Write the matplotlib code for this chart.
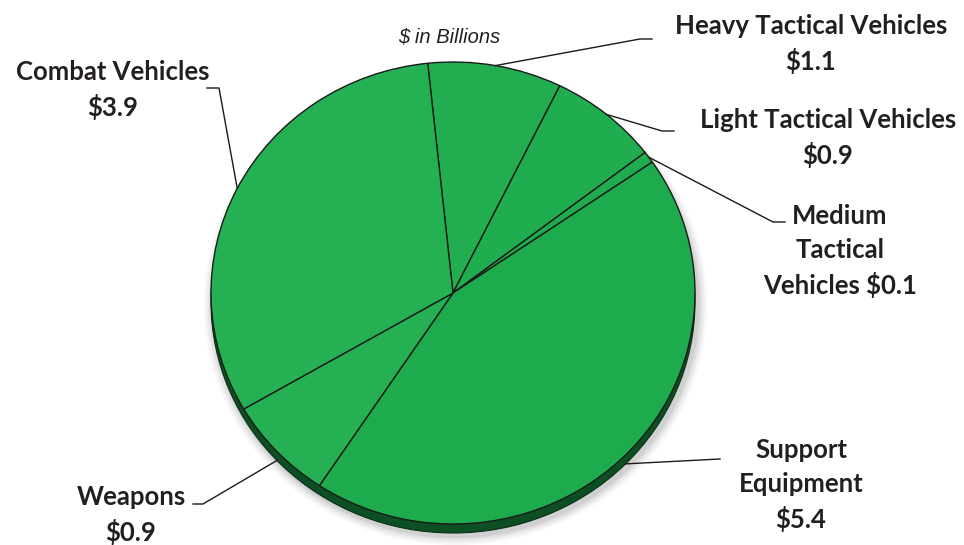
import matplotlib.pyplot as plt
import numpy as np
from matplotlib.patches import Ellipse

# slices, clockwise from the top
labels = ["Heavy Tactical Vehicles\n$1.1", "Light Tactical Vehicles\n$0.9",
          "Medium\nTactical\nVehicles $0.1", "Support\nEquipment\n$5.4",
          "Weapons\n$0.9", "Combat Vehicles\n$3.9"]
values = [1.1, 0.9, 0.1, 5.4, 0.9, 3.9]
colors = ["#22ae50", "#20ad4f", "#1fac4e", "#1eab4e", "#25b053", "#25b053"]

# label centres and leader-line elbows (pixels, from top left)
label_pos = [(811, 44), (828, 138), (840, 251), (801, 485), (131, 515), (113, 90)]
elbows = [(640, 39), (662, 131), (773, 222), (720, 459), (203, 504), (219, 88)]
ends = [(652, 39), (674, 131), (785, 222), (720, 459), (193, 504), (207, 88)]

W, H = 964, 545
CX, CY, RX, RY = 453, 293, 242, 231
DEPTH = 9

fig = plt.figure(figsize=(W / 100, H / 100), dpi=100)

# overlay in pixel coordinates for labels and leaders
ov = fig.add_axes([0, 0, 1, 1])
ov.set_xlim(0, W)
ov.set_ylim(H, 0)
ov.axis("off")

ax = fig.add_axes([(CX - RX) / W, (H - CY - RY) / H, 2 * RX / W, 2 * RY / H])
ax.set_zorder(0)
ov.set_zorder(1)
ov.patch.set_alpha(0)

# soft shadow and dark rim
d = DEPTH / RY
for i, a in enumerate([0.03, 0.04, 0.05, 0.07]):
    s = 1 + 0.01 * (4 - i)
    ax.add_patch(Ellipse((0.01, -d - 0.012), 2 * s, 2 * s, color="#000000",
                         alpha=a, lw=0, zorder=0, clip_on=False))
ax.add_patch(Ellipse((0, -d), 2, 2, facecolor="#0c4f22", edgecolor="#0a2e16",
                     lw=0.8, zorder=1, clip_on=False))

wedges, _ = ax.pie(values, startangle=96, counterclock=False, colors=colors,
                   radius=1, wedgeprops=dict(edgecolor="#1a1a1a", linewidth=1))
for w in wedges:
    w.set_zorder(2)
    w.set_clip_on(False)
ax.set_aspect("auto")
ax.set_xlim(-1, 1)
ax.set_ylim(-1, 1)
ax.axis("off")

for w, lab, pos, el, en in zip(wedges, labels, label_pos, elbows, ends):
    ang = np.deg2rad((w.theta1 + w.theta2) / 2)
    px = CX + RX * np.cos(ang)
    py = CY - RY * np.sin(ang)
    if np.sin(ang) < 0:
        py += DEPTH
    ov.plot([px, el[0], en[0]], [py, el[1], en[1]], color="#1a1a1a", lw=1)
    ov.text(pos[0], pos[1], lab, ha="center", va="center", fontsize=18.5,
            fontweight="bold", family="Lato", color="#231f20", linespacing=1.47)

ov.text(449, 37, "$ in Billions", ha="center", va="center", fontsize=14.5,
        style="italic", family="Liberation Sans", color="#231f20")

fig.savefig("out.png", dpi=100)
